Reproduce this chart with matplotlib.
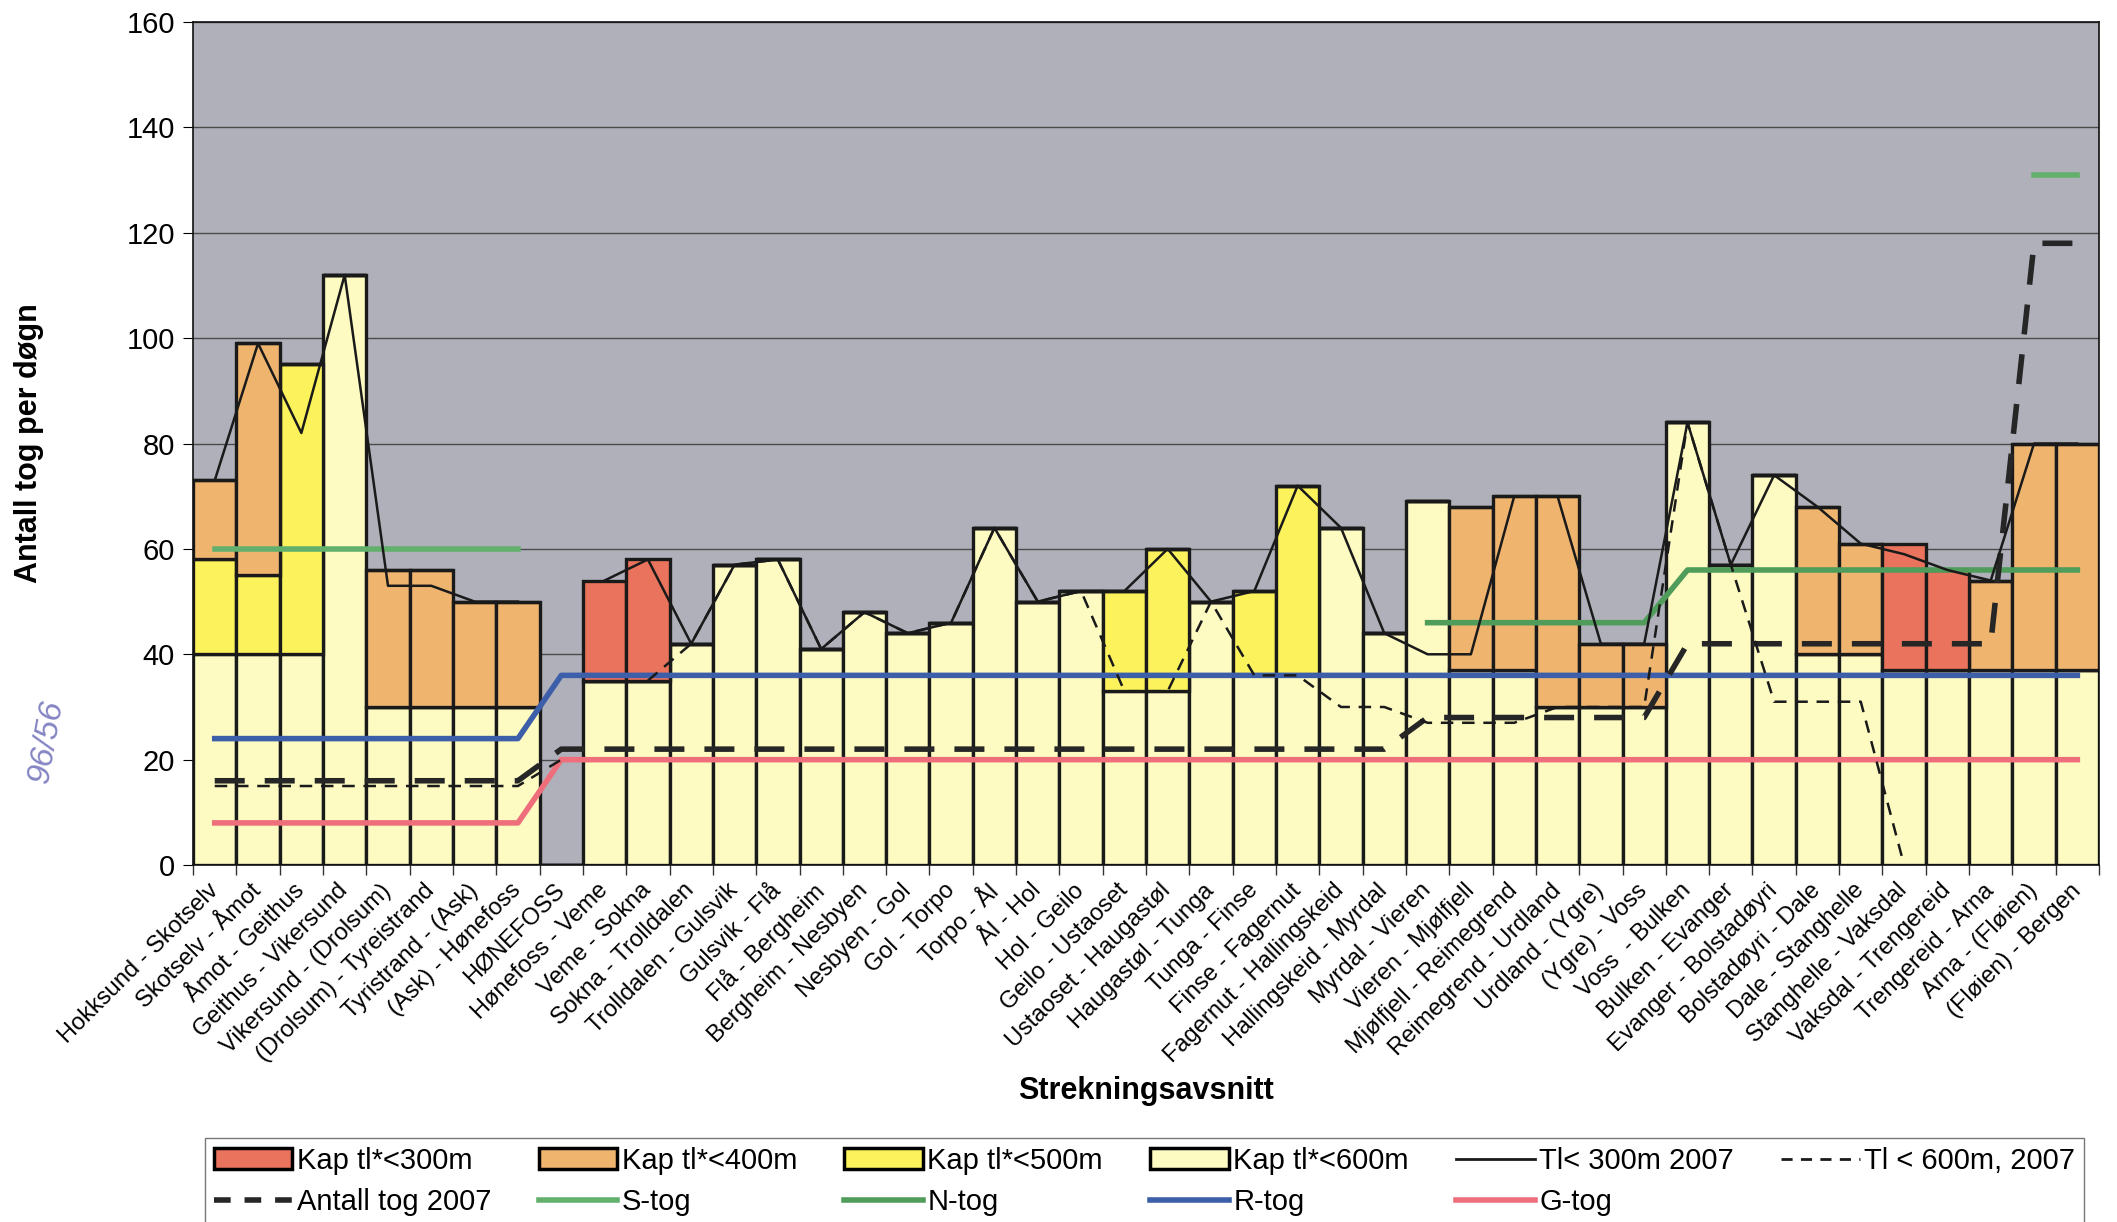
import numpy as np
import matplotlib
matplotlib.use("Agg")
import matplotlib.pyplot as plt
from matplotlib.patches import Patch
from matplotlib.lines import Line2D

nan = np.nan

strekninger = [
    "Hokksund - Skotselv", "Skotselv - Åmot", "Åmot - Geithus", "Geithus - Vikersund",
    "Vikersund - (Drolsum)", "(Drolsum) - Tyreistrand", "Tyristrand - (Ask)", "(Ask) - Hønefoss",
    "HØNEFOSS", "Hønefoss - Veme", "Veme - Sokna", "Sokna - Trolldalen",
    "Trolldalen - Gulsvik", "Gulsvik - Flå", "Flå - Bergheim", "Bergheim - Nesbyen",
    "Nesbyen - Gol", "Gol - Torpo", "Torpo - Ål", "Ål - Hol",
    "Hol - Geilo", "Geilo - Ustaoset", "Ustaoset - Haugastøl", "Haugastøl - Tunga",
    "Tunga - Finse", "Finse - Fagernut", "Fagernut - Hallingskeid", "Hallingskeid - Myrdal",
    "Myrdal - Vieren", "Vieren - Mjølfjell", "Mjølfjell - Reimegrend", "Reimegrend - Urdland",
    "Urdland - (Ygre)", "(Ygre) - Voss", "Voss  - Bulken", "Bulken - Evanger",
    "Evanger - Bolstadøyri", "Bolstadøyri - Dale", "Dale - Stanghelle", "Stanghelle - Vaksdal",
    "Vaksdal - Trengereid", "Trengereid - Arna", "Arna - (Fløien)", "(Fløien) - Bergen",
]

# stacked capacity segments (bottom -> top)
kap_600 = [40, 40, 40, 112, 30, 30, 30, 30, 0, 35,
           35, 42, 57, 58, 41, 48, 44, 46, 64, 50,
           52, 33, 33, 50, 36, 36, 64, 44, 69, 37,
           37, 30, 30, 30, 84, 57, 74, 40, 40, 37,
           37, 37, 37, 37]
kap_500 = [18, 15, 55, 0, 0, 0, 0, 0, 0, 0,
           0, 0, 0, 0, 0, 0, 0, 0, 0, 0,
           0, 19, 27, 0, 16, 36, 0, 0, 0, 0,
           0, 0, 0, 0, 0, 0, 0, 0, 0, 0,
           0, 0, 0, 0]
kap_400 = [15, 44, 0, 0, 26, 26, 20, 20, 0, 0,
           0, 0, 0, 0, 0, 0, 0, 0, 0, 0,
           0, 0, 0, 0, 0, 0, 0, 0, 0, 31,
           33, 40, 12, 12, 0, 0, 0, 28, 21, 0,
           0, 17, 43, 43]
kap_300 = [0, 0, 0, 0, 0, 0, 0, 0, 0, 19,
           23, 0, 0, 0, 0, 0, 0, 0, 0, 0,
           0, 0, 0, 0, 0, 0, 0, 0, 0, 0,
           0, 0, 0, 0, 0, 0, 0, 0, 0, 24,
           19, 0, 0, 0]

tl300_2007 = [73, 99, 82, 112, 53, 53, 50, 50, nan, 54,
              58, 42, 57, 58, 41, 48, 44, 46, 64, 50,
              52, 52, 60, 50, 52, 72, 64, 44, 40, 40,
              70, 70, 42, 42, 84, 57, 74, 68, 61, 59,
              56, 54, 80, 80]
tl600_2007 = [15, 15, 15, 15, 15, 15, 15, 15, 20, nan,
              35, 42, 57, 58, 41, 48, 44, 46, 64, 50,
              52, 33, 33, 50, 36, 36, 30, 30, 27, 27,
              27, 30, 30, 30, 84, 57, 31, 31, 31, 0,
              nan, nan, nan, nan]
antall_2007 = [16, 16, 16, 16, 16, 16, 16, 16, 22, 22,
               22, 22, 22, 22, 22, 22, 22, 22, 22, 22,
               22, 22, 22, 22, 22, 22, 22, 22, 28, 28,
               28, 28, 28, 28, 42, 42, 42, 42, 42, 42,
               42, 42, 118, 118]
s_tog = [60, 60, 60, 60, 60, 60, 60, 60, nan, nan,
         nan, nan, nan, nan, nan, nan, nan, nan, nan, nan,
         nan, nan, nan, nan, nan, nan, nan, nan, nan, nan,
         nan, nan, nan, nan, nan, nan, nan, nan, nan, nan,
         nan, nan, 131, 131]
n_tog = [nan, nan, nan, nan, nan, nan, nan, nan, nan, nan,
         nan, nan, nan, nan, nan, nan, nan, nan, nan, nan,
         nan, nan, nan, nan, nan, nan, nan, nan, 46, 46,
         46, 46, 46, 46, 56, 56, 56, 56, 56, 56,
         56, 56, 56, 56]
r_tog = [24, 24, 24, 24, 24, 24, 24, 24, 36, 36,
         36, 36, 36, 36, 36, 36, 36, 36, 36, 36,
         36, 36, 36, 36, 36, 36, 36, 36, 36, 36,
         36, 36, 36, 36, 36, 36, 36, 36, 36, 36,
         36, 36, 36, 36]
g_tog = [8, 8, 8, 8, 8, 8, 8, 8, 20, 20,
         20, 20, 20, 20, 20, 20, 20, 20, 20, 20,
         20, 20, 20, 20, 20, 20, 20, 20, 20, 20,
         20, 20, 20, 20, 20, 20, 20, 20, 20, 20,
         20, 20, 20, 20]

c300, c400, c500, c600 = '#e9735c', '#efb56f', '#fcf35c', '#fdfbc2'
c_s, c_n, c_r, c_g = '#62b06c', '#4f9c5b', '#3d5ea8', '#ee6f7b'

plt.rcParams['font.family'] = ['Liberation Sans', 'DejaVu Sans']

fig = plt.figure(figsize=(21.17, 12.22), dpi=100)
ax = fig.add_axes([0.0912, 0.2921, 0.9003, 0.6899])
ax.set_facecolor('#b0b0bb')

x = np.arange(len(strekninger))
bottom = np.zeros(len(x))
for vals, col in [(kap_600, c600), (kap_500, c500), (kap_400, c400), (kap_300, c300)]:
    ax.bar(x, vals, width=1.0, bottom=bottom, color=col, edgecolor='#1a1a1a',
           linewidth=2.4, zorder=2)
    bottom += np.array(vals)

ax.plot(x, g_tog, color=c_g, lw=4, zorder=3)
ax.plot(x, r_tog, color=c_r, lw=4, zorder=3)
ax.plot(x, n_tog, color=c_n, lw=4, zorder=3)
ax.plot(x, s_tog, color=c_s, lw=4, zorder=3)
ax.plot(x, antall_2007, color='#262626', lw=4, dashes=(5.4, 3.6), zorder=4)
ax.plot(x, tl600_2007, color='#1a1a1a', lw=1.8, dashes=(5, 3.5), zorder=4)
ax.plot(x, tl300_2007, color='#1a1a1a', lw=1.8, zorder=4)

ax.set_xlim(-0.5, len(x) - 0.5)
ax.set_ylim(0, 160)
ax.set_yticks(range(0, 161, 20))
ax.yaxis.grid(True, color='#4a4a4a', lw=1)
ax.set_axisbelow(True)
ax.tick_params(axis='y', labelsize=21, length=7, pad=6)

ax.set_xticks(x)
ax.set_xticklabels(strekninger, rotation=45, ha='right', va='center',
                   rotation_mode='anchor', fontsize=17)
ax.tick_params(axis='x', which='major', length=0, pad=16)
ax.set_xticks(np.arange(-0.5, len(x), 1), minor=True)
ax.tick_params(axis='x', which='minor', length=7, width=1, color='#333333')
for s in ax.spines.values():
    s.set_color('#111111')
    s.set_linewidth(1.2)

fig.text(0.5413, 0.107, 'Strekningsavsnitt', ha='center', va='center',
         fontsize=22, fontweight='bold')
fig.text(0.0135, 0.6375, 'Antall tog per døgn', rotation=90, ha='center',
         va='center', fontsize=22, fontweight='bold')
fig.text(0.022, 0.393, '96/56', rotation=80, ha='center', va='center',
         fontsize=24, color='#8585c4', style='italic')

row1 = [
    (Patch(facecolor=c300, edgecolor='black', lw=2.5), 'Kap tl*<300m'),
    (Patch(facecolor=c400, edgecolor='black', lw=2.5), 'Kap tl*<400m'),
    (Patch(facecolor=c500, edgecolor='black', lw=2.5), 'Kap tl*<500m'),
    (Patch(facecolor=c600, edgecolor='black', lw=2.5), 'Kap tl*<600m'),
    (Line2D([], [], color='#1a1a1a', lw=2), 'Tl< 300m 2007'),
    (Line2D([], [], color='#1a1a1a', lw=2, dashes=(4, 3)), 'Tl < 600m, 2007'),
]
row2 = [
    (Line2D([], [], color='#262626', lw=4, dashes=(3, 2.5)), 'Antall tog 2007'),
    (Line2D([], [], color=c_s, lw=4), 'S-tog'),
    (Line2D([], [], color=c_n, lw=4), 'N-tog'),
    (Line2D([], [], color=c_r, lw=4), 'R-tog'),
    (Line2D([], [], color=c_g, lw=4), 'G-tog'),
]
order = []
for i in range(6):
    order.append(row1[i])
    if i < len(row2):
        order.append(row2[i])
fig.legend([h for h, _ in order], [l for _, l in order], loc='upper left',
           bbox_to_anchor=(0.0968, 0.0687), ncol=6, fontsize=21, frameon=True,
           fancybox=False, edgecolor='#555555', handlelength=2.7,
           handletextpad=0.15, columnspacing=1.62, labelspacing=0.45,
           borderpad=0.3, borderaxespad=0)

fig.savefig('out.png', dpi=100)
